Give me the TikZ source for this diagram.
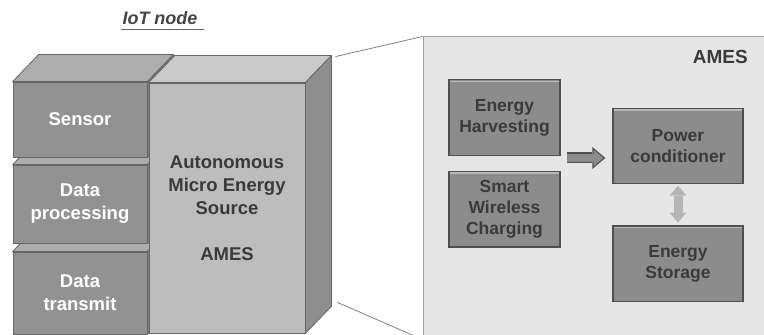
\documentclass[tikz,border=0pt]{standalone}
\usepackage{fontspec}
\setmainfont{Liberation Sans}
\usetikzlibrary{%
  positioning,% wg. " of "
  calc,%
  arrows.meta%
}

\definecolor{edgegray}{HTML}{666666}
\definecolor{stackfront}{HTML}{929292}
\definecolor{stacktop}{HTML}{ADADAD}
\definecolor{stackside}{HTML}{7C7C7C}
\definecolor{amesfront}{HTML}{BDBDBD}
\definecolor{amestop}{HTML}{CACACA}
\definecolor{amesside}{HTML}{8E8E8E}
\definecolor{panelgray}{HTML}{E6E6E6}
\definecolor{blockgray}{HTML}{8C8C8C}
\definecolor{blockedge}{HTML}{4F4F4F}
\definecolor{inkgray}{HTML}{3A3A3A}

\tikzset{
  title/.style    = {inner sep=0pt, anchor=base, text=inkgray!95!white,
                     font=\fontsize{18}{21}\selectfont\bfseries\itshape},
  stack/.style    = {draw=edgegray, line width=0.8pt, fill=stackfront,
                     minimum width=134pt, inner sep=0pt, align=center, text=white,
                     font=\fontsize{18.5}{23}\selectfont\bfseries},
  amesbox/.style  = {draw=edgegray, line width=0.8pt, fill=amesfront,
                     minimum width=156pt, minimum height=250pt, inner sep=0pt,
                     align=center, text=inkgray,
                     font=\fontsize{18.5}{23}\selectfont\bfseries},
  panel/.style    = {draw=gray!75, line width=1pt, fill=panelgray,
                     minimum width=350pt, minimum height=302pt, inner sep=0pt},
  tag/.style      = {inner sep=0pt, text=inkgray,
                     font=\fontsize{19}{23}\selectfont\bfseries},
  block/.style    = {draw=blockedge, line width=1.3pt, fill=blockgray,
                     minimum width=111pt, minimum height=75.5pt, inner sep=0pt,
                     align=center, text=inkgray,
                     font=\fontsize{17.5}{21}\selectfont\bfseries,
                     path picture={\draw[line width=1.6pt, gray!55]
                       ([yshift=-1.6pt]path picture bounding box.north west) --
                       ([yshift=-1.6pt]path picture bounding box.north east);}},
  zoomline/.style = {draw=gray, line width=0.8pt},
  flow/.style     = {draw=blockgray, line width=8pt, shorten >=9pt,
                     -{Triangle[width=17pt, length=9.8pt, line width=0pt]},
                     preaction={draw=blockedge, line width=11pt, shorten >=7pt,
                       -{Triangle[width=22pt, length=13pt, line width=0pt]}}},
  swap/.style     = {draw=gray!58, line width=9pt, shorten <=1.3pt, shorten >=2.8pt,
                     {Triangle[width=17pt, length=10pt, line width=0pt]}-%
                     {Triangle[width=17pt, length=10pt, line width=0pt]}}
}

% top and right faces of a box node: #1 node, #2 top colour, #3 side colour, #4 depth
\newcommand\cubefaces[4]{%
  \filldraw[draw=edgegray, line width=0.8pt, line join=round, fill=#2]
    (#1.north west) -- ++(#4) -- ($(#1.north east)+(#4)$) -- (#1.north east) -- cycle;
  \filldraw[draw=edgegray, line width=0.8pt, line join=round, fill=#3]
    (#1.north east) -- ++(#4) -- ($(#1.south east)+(#4)$) -- (#1.south east) -- cycle;
}

\begin{document}
\begin{tikzpicture}[x=1pt, y=1pt]
  \useasboundingbox (0,0) rectangle (764,335);
  \clip (0,0) rectangle (764,335);

  % heading
  \node[title] (iot) at (160,310) {IoT node};
  \draw[line width=1.8pt, inkgray!80]
    ([xshift=-1pt, yshift=-4.5pt]iot.base west) -- ([xshift=6pt, yshift=-4.5pt]iot.base east);

  % node stack, bottom box first
  \node[stack, minimum height=82pt] (trans) at (80,42) {Data\\transmit};
  \cubefaces{trans}{stacktop}{stackside}{26,27}
  \node[stack, minimum height=78pt] (proc) at (80,131) {Data\\processing};
  \cubefaces{proc}{stacktop}{stackside}{26,27}
  \node[stack, minimum height=75pt] (sensor) at (80,215.5) {Sensor};
  \cubefaces{sensor}{stacktop}{stackside}{26,27}

  % energy source block
  \node[amesbox] (ames) at (227,127) {Autonomous\\Micro Energy\\Source\\[23pt]AMES};
  \cubefaces{ames}{amestop}{amesside}{26,27}

  % detail panel
  \node[panel] (pnl) at (598,147) {};
  \node[tag, anchor=east] (amestag) at (748,278) {AMES};

  \coordinate (amesback) at ($(ames.north east)+(26,27)$);
  \coordinate (amesfoot) at ($(ames.south east)+(26,27)$);
  \draw[zoomline] ([shift={(4,-1)}]amesback) -- (pnl.north west);
  \draw[zoomline] ([shift={(6,4)}]amesfoot) -- (pnl.south west);

  \node[block] (harvest) at (504.5,217.5) {Energy\\Harvesting};
  \node[block, below=15pt of harvest] (charge) {Smart\\Wireless\\Charging};
  \node[block, minimum width=130pt] (cond) at (678,189) {Power\\conditioner};
  \node[block, minimum width=130pt, below=41pt of cond] (store) {Energy\\Storage};

  % energy flow
  \coordinate (flowin) at (567,177);
  \draw[flow] (flowin) -- (flowin -| cond.west);
  \draw[swap] (cond.south) -- (store.north);
\end{tikzpicture}
\end{document}
